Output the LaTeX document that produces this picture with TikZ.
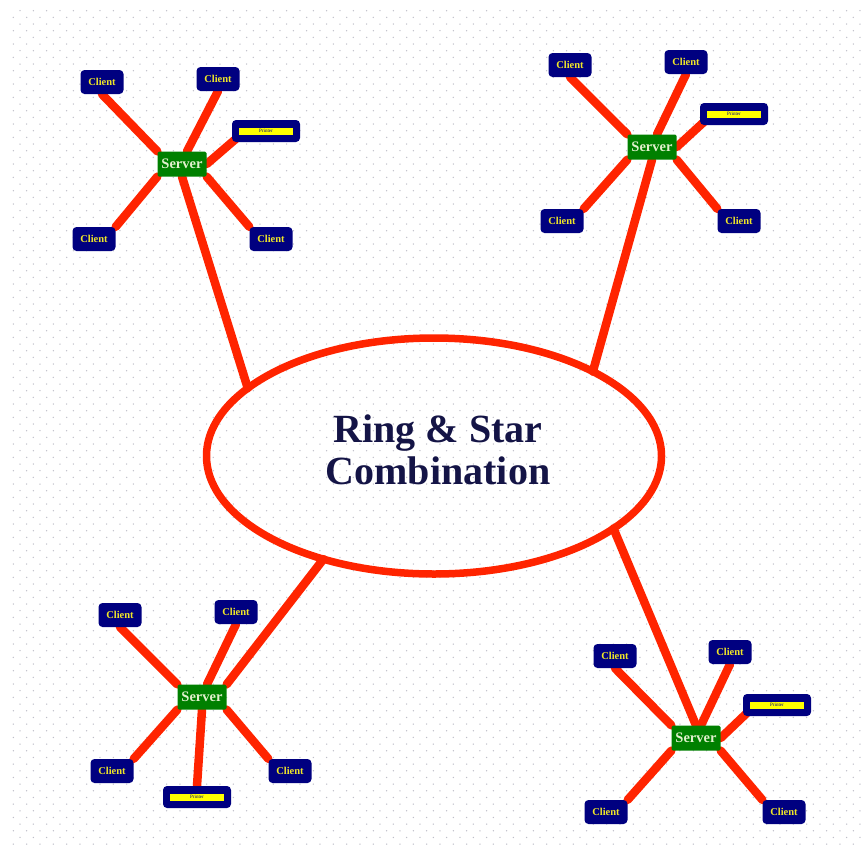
\documentclass[tikz,border=0pt]{standalone}
\usepackage{fontspec}
\setmainfont{Liberation Serif}
\usetikzlibrary{shapes.geometric,backgrounds}

\definecolor{wire}{RGB}{255,36,0}
\definecolor{navybox}{RGB}{0,0,128}
\definecolor{srvgreen}{RGB}{0,128,0}
\definecolor{srvtext}{RGB}{225,240,205}
\definecolor{clienttext}{RGB}{240,230,40}
\definecolor{titleink}{RGB}{20,20,70}
\definecolor{griddot}{RGB}{190,190,200}
\definecolor{barfill}{RGB}{255,255,0}

% yellow label strip used inside the printer boxes
\newcommand\printerbar{{\setlength{\fboxsep}{0pt}\colorbox{barfill}{\parbox[c][7pt][c]{54pt}{\centering\fontsize{5}{5}\selectfont\color{navybox}Printer}}}}

\tikzset{
  client/.style={fill=navybox, rounded corners=4pt, minimum width=43pt, minimum height=24pt,
    inner sep=0pt, text=clienttext, font=\bfseries\fontsize{10.5}{12}\selectfont},
  server/.style={fill=srvgreen, rounded corners=1.5pt, minimum width=49pt, minimum height=25pt,
    inner sep=0pt, text=srvtext, font=\bfseries\fontsize{14.5}{16}\selectfont},
  printer/.style={fill=navybox, rounded corners=4pt, minimum width=68pt, minimum height=22pt,
    inner sep=0pt},
  link/.style={draw=wire, line width=8.5pt, line cap=round},
  ringline/.style={draw=wire, line width=7.5pt},
}

\begin{document}
\begin{tikzpicture}[x=1pt,y=-1pt]
\useasboundingbox (0,0) rectangle (861,852);

% central ring
\node[ringline, ellipse, minimum width=455pt, minimum height=236pt, outer sep=0pt] (ring) at (434,456) {};
\node[font=\bfseries\fontsize{40}{42}\selectfont, text=titleink, align=center] (title) at (438,450) {Ring \& Star\\Combination};

% top-left star
\node[server] (tlS) at (182,164) {Server};
\node[client] (tlA) at (102,82) {Client};
\node[client] (tlB) at (218,79) {Client};
\node[printer] (tlP) at (266,131) {\printerbar};
\node[client] (tlC) at (94,239) {Client};
\node[client] (tlD) at (271,239) {Client};

% top-right star
\node[server] (trS) at (652,147) {Server};
\node[client] (trA) at (570,65) {Client};
\node[client] (trB) at (686,62) {Client};
\node[printer] (trP) at (734,114) {\printerbar};
\node[client] (trC) at (562,221) {Client};
\node[client] (trD) at (739,221) {Client};

% bottom-left star
\node[server] (blS) at (202,697) {Server};
\node[client] (blA) at (120,615) {Client};
\node[client] (blB) at (236,612) {Client};
\node[client] (blC) at (112,771) {Client};
\node[client] (blD) at (290,771) {Client};
\node[printer] (blP) at (197,797) {\printerbar};

% bottom-right star
\node[server] (brS) at (696,738) {Server};
\node[client] (brA) at (615,656) {Client};
\node[client] (brB) at (730,652) {Client};
\node[printer] (brP) at (777,705) {\printerbar};
\node[client] (brC) at (606,812) {Client};
\node[client] (brD) at (784,812) {Client};

\begin{scope}[on background layer]
  % dotted paper, one fill per row of dots
  \foreach \j in {0,...,125} {
    \pgfmathsetmacro\rowy{10.7+6.667*\j}
    \pgfmathsetmacro\rowx{20-6.667*mod(\j,2)}
    \fill[griddot] \foreach \i in {0,...,63} { ({\rowx+13.333*\i},\rowy) circle (0.75pt) };
  }
  % star links: every server meets its clients at its corners and top
  \foreach \s in {tl,tr,bl,br} {
    \draw[link] (\s S.north west) -- (\s A.south);
    \draw[link] ([xshift=5pt]\s S.north) -- (\s B.south);
    \draw[link] (\s S.south west) -- (\s C.north east);
    \draw[link] (\s S.south east) -- (\s D.north west);
  }
  % printer links
  \draw[link] (tlS.east) -- ([xshift=6pt,yshift=5pt]tlP.south west);
  \draw[link] (trS.east) -- ([xshift=6pt,yshift=5pt]trP.south west);
  \draw[link] (brS.east) -- ([xshift=6pt,yshift=5pt]brP.south west);
  \draw[link] (blS.south) -- (blP.north);
  % links from each server to the ring
  \draw[link] (tlS.south) -- (ring.160);
  \draw[link] (trS.south) -- (ring.28);
  \draw[link] (blS.north east) -- (ring.223);
  \draw[link] (brS.north) -- (ring.338);
\end{scope}
\end{tikzpicture}
\end{document}
